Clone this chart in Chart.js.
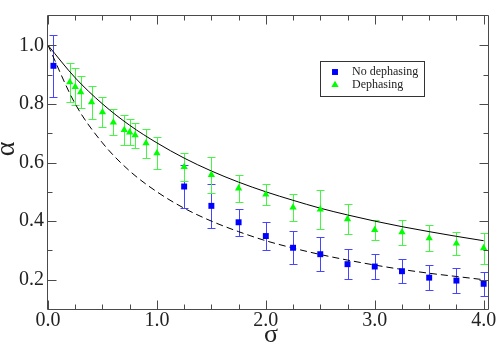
<!DOCTYPE html>
<html>
<head>
<meta charset="utf-8">
<script src="https://cdn.jsdelivr.net/npm/chart.js@4/dist/chart.umd.min.js"></script>
<style>
html,body{margin:0;padding:0;background:#fff;}
#wrap{width:498px;height:346px;position:relative;}
</style>
</head>
<body>
<div id="wrap"><canvas id="c" width="498" height="346"></canvas></div>
<script>
// ---- data ----
const seriesNames = ["No dephasing", "Dephasing"];

const noDephX   = [0.05, 1.25, 1.5, 1.75, 2.0, 2.25, 2.5, 2.75, 3.0, 3.25, 3.5, 3.75, 4.0];
const noDephY   = [0.930, 0.518, 0.452, 0.396, 0.349, 0.309, 0.287, 0.253, 0.245, 0.229, 0.207, 0.197, 0.186];
const noDephErr = [0.105, 0.072, 0.076, 0.047, 0.047, 0.057, 0.058, 0.051, 0.042, 0.040, 0.043, 0.043, 0.040];

const dephX   = [0.2, 0.25, 0.3, 0.4, 0.5, 0.6, 0.7, 0.75, 0.8, 0.9, 1.0, 1.25, 1.5, 1.75, 2.0, 2.25, 2.5, 2.75, 3.0, 3.25, 3.5, 3.75, 4.0];
const dephY   = [0.874, 0.858, 0.840, 0.806, 0.772, 0.737, 0.711, 0.703, 0.693, 0.666, 0.632, 0.585, 0.558, 0.512, 0.491, 0.447, 0.440, 0.407, 0.370, 0.362, 0.342, 0.324, 0.308];
const dephErr = [0.066, 0.063, 0.055, 0.056, 0.050, 0.044, 0.050, 0.044, 0.042, 0.050, 0.054, 0.049, 0.062, 0.047, 0.035, 0.046, 0.067, 0.050, 0.035, 0.042, 0.044, 0.040, 0.053];

// model curves
const curveX      = [0, 0.25, 0.5, 0.75, 1.0, 1.25, 1.5, 1.75, 2.0, 2.25, 2.5, 2.75, 3.0, 3.25, 3.5, 3.75, 4.0];
const solidCurveY = [1.000, 0.889, 0.800, 0.727, 0.667, 0.615, 0.571, 0.533, 0.500, 0.471, 0.444, 0.421, 0.400, 0.381, 0.364, 0.348, 0.333];
const dashCurveY  = [1.000, 0.800, 0.667, 0.571, 0.500, 0.444, 0.400, 0.364, 0.333, 0.308, 0.286, 0.267, 0.250, 0.235, 0.222, 0.211, 0.200];

const xTicks = [0, 1, 2, 3, 4];
const xMinorTicks = [0.25, 0.5, 0.75, 1.25, 1.5, 1.75, 2.25, 2.5, 2.75, 3.25, 3.5, 3.75];
const yTicks = [0.2, 0.4, 0.6, 0.8, 1.0];
const yMinorTicks = [0.3, 0.5, 0.7, 0.9];

const xTitle = "σ";
const yTitle = "α";

// ---- styling ----
const SERIF = '"Liberation Serif", "DejaVu Serif", serif';
const BLUE = 'rgb(0,0,255)';
const GREEN = 'rgb(0,255,0)';
const BLUE_ERR = 'rgb(70,70,255)';
const GREEN_ERR = 'rgb(70,245,70)';
const FRAME = '#4a4a4a';
const TEXT = '#222';

const toPts = (xs, ys) => xs.map((x, i) => ({x: x, y: ys[i]}));
const errorColors = [BLUE_ERR, GREEN_ERR];
const errorArrays = [noDephErr, dephErr];

const errorBars = {
  id: 'errorBars',
  beforeDatasetsDraw(chart) {
    const ctx = chart.ctx, xs = chart.scales.x, ys = chart.scales.y;
    [0, 1].forEach(di => {
      const ds = chart.data.datasets[di];
      const errs = errorArrays[di];
      ctx.save();
      ctx.setLineDash([]);
      ctx.strokeStyle = errorColors[di];
      ctx.lineWidth = 1;
      ctx.beginPath();
      ds.data.forEach((p, i) => {
        const e = errs[i];
        const px = Math.round(xs.getPixelForValue(p.x)) + 0.5;
        const yt = Math.round(ys.getPixelForValue(p.y + e)) + 0.5;
        const yb = Math.round(ys.getPixelForValue(p.y - e)) + 0.5;
        ctx.moveTo(px, yt); ctx.lineTo(px, yb);
        ctx.moveTo(px - 4, yt); ctx.lineTo(px + 4, yt);
        ctx.moveTo(px - 4, yb); ctx.lineTo(px + 4, yb);
      });
      ctx.stroke();
      ctx.restore();
    });
  }
};

const frameAndExtras = {
  id: 'frameAndExtras',
  afterDraw(chart) {
    const ctx = chart.ctx, a = chart.chartArea, xs = chart.scales.x, ys = chart.scales.y;
    const L = Math.round(a.left) - 0.5, R = Math.round(a.right) + 0.5;
    const T = Math.round(a.top) - 0.5, B = Math.round(a.bottom) + 0.5;
    ctx.save();
    ctx.setLineDash([]);
    ctx.strokeStyle = FRAME;
    ctx.lineWidth = 1;
    ctx.beginPath();
    ctx.rect(L, T, R - L, B - T);
    const xt = (vals, len) => vals.forEach(v => {
      const px = Math.round(xs.getPixelForValue(v)) + 0.5;
      ctx.moveTo(px, B); ctx.lineTo(px, B - len);
      ctx.moveTo(px, T); ctx.lineTo(px, T + len);
    });
    const yt = (vals, len) => vals.forEach(v => {
      const py = Math.round(ys.getPixelForValue(v)) + 0.5;
      ctx.moveTo(L, py); ctx.lineTo(L + len, py);
      ctx.moveTo(R, py); ctx.lineTo(R - len, py);
    });
    xt(xTicks, 9); xt(xMinorTicks, 5);
    yt(yTicks, 9); yt(yMinorTicks, 5);
    ctx.stroke();

    // axis titles
    ctx.fillStyle = TEXT;
    ctx.textAlign = 'center';
    ctx.textBaseline = 'middle';
    ctx.font = '26px ' + SERIF;
    ctx.fillText(xTitle, (a.left + a.right) / 2 + 3, 335);
    ctx.save();
    ctx.translate(7, 149);
    ctx.rotate(-Math.PI / 2);
    ctx.font = '28px ' + SERIF;
    ctx.fillText(yTitle, 0, 0);
    ctx.restore();

    // legend box
    const bx = 320.5, by = 61.5, bw = 104, bh = 35;
    ctx.strokeStyle = '#333';
    ctx.strokeRect(bx, by, bw, bh);
    const rows = [{y: 72, ds: chart.data.datasets[0], c: BLUE}, {y: 85, ds: chart.data.datasets[1], c: GREEN}];
    ctx.font = '12px ' + SERIF;
    ctx.textAlign = 'left';
    rows.forEach(r => {
      ctx.fillStyle = r.c;
      ctx.strokeStyle = r.c;
      Chart.helpers.drawPoint(ctx, {pointStyle: r.ds.pointStyle, radius: r.ds.pointRadius, rotation: 0, borderWidth: 0}, 335, r.y);
      ctx.fillStyle = TEXT;
      ctx.fillText(r.ds.label, 352, r.y);
    });
    ctx.restore();
  }
};

new Chart(document.getElementById('c'), {
  type: 'scatter',
  data: {
    datasets: [
      {
        label: seriesNames[0],
        data: toPts(noDephX, noDephY),
        pointStyle: 'rect',
        pointRadius: 4.2,
        backgroundColor: BLUE,
        borderColor: BLUE,
        borderWidth: 0,
        showLine: false
      },
      {
        label: seriesNames[1],
        data: toPts(dephX, dephY),
        pointStyle: 'triangle',
        pointRadius: 4.2,
        backgroundColor: GREEN,
        borderColor: GREEN,
        borderWidth: 0,
        showLine: false
      },
      {
        type: 'line',
        label: 'model (dephasing)',
        data: toPts(curveX, solidCurveY),
        borderColor: '#000',
        borderWidth: 1,
        pointRadius: 0,
        fill: false,
        cubicInterpolationMode: 'monotone'
      },
      {
        type: 'line',
        label: 'model (no dephasing)',
        data: toPts(curveX, dashCurveY),
        borderColor: '#000',
        borderWidth: 1,
        borderDash: [7, 4],
        pointRadius: 0,
        fill: false,
        cubicInterpolationMode: 'monotone'
      }
    ]
  },
  options: {
    responsive: false,
    animation: false,
    devicePixelRatio: 1,
    layout: {padding: {left: 0, right: 10, top: 1, bottom: 0}},
    plugins: {legend: {display: false}, tooltip: {enabled: false}},
    scales: {
      x: {
        type: 'linear', min: 0, max: 4.04,
        afterBuildTicks: s => { s.ticks = xTicks.map(v => ({value: v})); },
        afterFit: s => { s.height = 37; },
        grid: {display: false, drawTicks: false},
        border: {display: false},
        ticks: {padding: 0, autoSkip: false, maxRotation: 0, color: TEXT,
                font: {family: SERIF, size: 20},
                callback: v => Number(v).toFixed(1)}
      },
      y: {
        type: 'linear', min: 0.1, max: 1.1,
        afterBuildTicks: s => { s.ticks = yTicks.map(v => ({value: v})); },
        afterFit: s => { s.width = 48; },
        grid: {display: false, drawTicks: false},
        border: {display: false},
        ticks: {padding: 4, autoSkip: false, color: TEXT,
                font: {family: SERIF, size: 20},
                callback: v => Number(v).toFixed(1)}
      }
    }
  },
  plugins: [errorBars, frameAndExtras]
});
</script>
</body>
</html>
